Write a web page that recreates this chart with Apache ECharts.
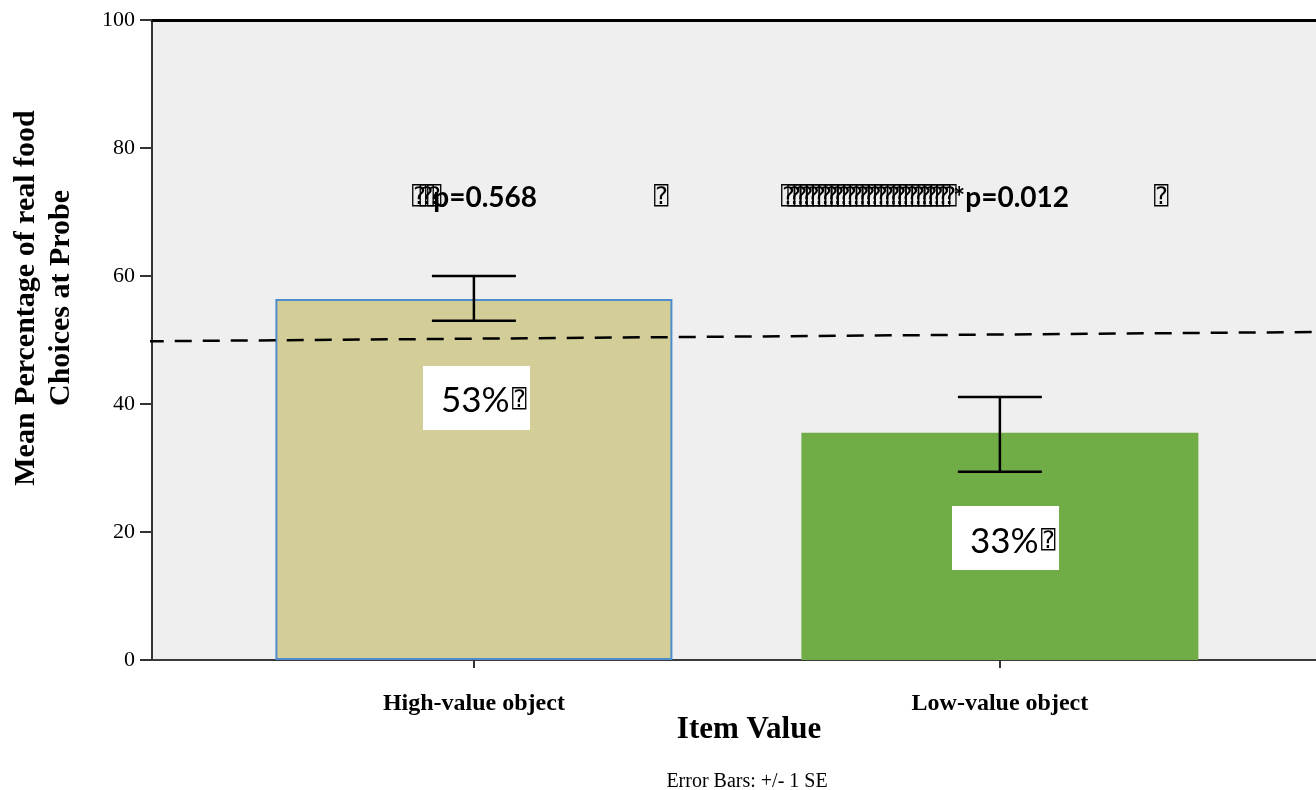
<!DOCTYPE html>
<html>
<head>
<meta charset="utf-8">
<script src="https://cdn.jsdelivr.net/npm/echarts@6/dist/echarts.min.js"></script>
<style>
  html, body { margin: 0; padding: 0; background: #ffffff; }
  #chart { width: 1316px; height: 790px; }
</style>
</head>
<body>
<div id="chart"></div>
<script>
// Mean percentage of real-food choices at probe, by item value
const categories = ['High-value object', 'Low-value object'];
const meanPercent = [56.4, 35.5];
const seLower = [53.0, 29.4];
const seUpper = [60.0, 41.1];
const percentLabels = ['53%', '33%'];
const pValueLabels = ['p=0.568', '*p=0.012'];
const chanceLevel = [49.8, 51.25];   // hand-drawn dashed reference, left end / right end
const yTickValues = [0, 20, 40, 60, 80, 100];

const SERIF = '"Liberation Serif", "Times New Roman", serif';
const SANS = 'Lato, "Open Sans", sans-serif';
const TOFU = '"DejaVu Sans Mono", "DejaVu Sans", monospace';
const Q = '\u2370';

// x axis runs in category-index units so the bars can sit off-centre in the frame
const X_MIN = -0.612, X_MAX = 1.601;
const catIndex = categories.map((_, i) => i);

const chart = echarts.init(document.getElementById('chart'), null, { renderer: 'canvas' });

function tofuRow(x0, step, count, yc) {
  const out = [];
  for (let i = 0; i < count; i++) {
    out.push({
      type: 'text', x: x0 + i * step, y: yc, z: 20,
      style: { text: Q, fill: '#000', font: '24px ' + TOFU, align: 'left', verticalAlign: 'middle' }
    });
  }
  return out;
}

const graphics = [
  // y axis title
  {
    type: 'text', x: 44, y: 298, rotation: Math.PI / 2, z: 20,
    style: {
      text: 'Mean Percentage of real food\nChoices at Probe',
      fill: '#000', font: 'bold 30px ' + SERIF, align: 'center', verticalAlign: 'middle', lineHeight: 35
    }
  },
  // x axis title
  {
    type: 'text', x: 749, y: 730, z: 20,
    style: { text: 'Item Value', fill: '#000', font: 'bold 31px ' + SERIF, align: 'center', verticalAlign: 'middle' }
  },
  // footnote
  {
    type: 'text', x: 747, y: 782, z: 20,
    style: { text: 'Error Bars: +/- 1 SE', fill: '#000', font: '20px ' + SERIF, align: 'center', verticalAlign: 'middle' }
  },
  // p-value annotations
  {
    type: 'text', x: 537, y: 198, z: 21,
    style: { text: pValueLabels[0], fill: '#000', font: 'bold 28px ' + SANS, align: 'right', verticalAlign: 'middle' }
  },
  {
    type: 'text', x: 1069, y: 198, z: 21,
    style: { text: pValueLabels[1], fill: '#000', font: 'bold 28px ' + SANS, align: 'right', verticalAlign: 'middle' }
  },
  ...tofuRow(412, 7.5, 3, 198),
  ...tofuRow(781, 6.2, 27, 198),
  ...tofuRow(654, 0, 1, 198),
  ...tofuRow(1154, 0, 1, 198),
  // percentage boxes
  { type: 'rect', shape: { x: 423, y: 366, width: 107, height: 64 }, style: { fill: '#ffffff' }, z: 20 },
  {
    type: 'text', x: 441, y: 401, z: 21,
    style: { text: percentLabels[0], fill: '#000', font: '35px ' + SANS, align: 'left', verticalAlign: 'middle' }
  },
  ...tofuRow(512, 0, 1, 401),
  { type: 'rect', shape: { x: 952, y: 506, width: 107, height: 64 }, style: { fill: '#ffffff' }, z: 20 },
  {
    type: 'text', x: 970, y: 542, z: 21,
    style: { text: percentLabels[1], fill: '#000', font: '35px ' + SANS, align: 'left', verticalAlign: 'middle' }
  },
  ...tofuRow(1041, 0, 1, 542)
];

const option = {
  animation: false,
  backgroundColor: '#ffffff',
  grid: {
    left: 152, right: 0, top: 20, bottom: 130,
    show: true, backgroundColor: '#efefef', borderWidth: 0
  },
  xAxis: [
    {
      type: 'value', position: 'bottom', min: X_MIN, max: X_MAX,
      axisLine: { show: true, onZero: false, lineStyle: { color: '#3a3a3a', width: 2 } },
      axisTick: { show: true, customValues: catIndex, length: 8, lineStyle: { color: '#333', width: 2 } },
      axisLabel: {
        show: true, customValues: catIndex, margin: 32,
        formatter: v => categories[Math.round(v)] || '',
        color: '#000', fontFamily: SERIF, fontWeight: 'bold', fontSize: 24
      },
      splitLine: { show: false }
    },
    {
      type: 'value', position: 'top', min: X_MIN, max: X_MAX,
      axisLine: { show: true, onZero: false, lineStyle: { color: '#000', width: 3 } },
      axisTick: { show: false }, axisLabel: { show: false }, splitLine: { show: false }
    }
  ],
  yAxis: {
    type: 'value', min: 0, max: 100, interval: 20,
    axisLine: { show: true, onZero: false, lineStyle: { color: '#333', width: 2 } },
    axisTick: { show: true, length: 12, lineStyle: { color: '#333', width: 2 } },
    axisLabel: {
      margin: 17, color: '#000', fontFamily: SERIF, fontSize: 22,
      formatter: v => yTickValues.includes(v) ? String(v) : ''
    },
    splitLine: { show: false }
  },
  series: [
    {
      type: 'bar', xAxisIndex: 0, barWidth: 397, z: 2,
      data: meanPercent.map((v, i) => ({
        value: [catIndex[i], v],
        itemStyle: i === 0
          ? { color: '#d3ce98', borderColor: '#4f8ccb', borderWidth: 2 }
          : { color: '#70ad47', borderWidth: 0 }
      }))
    },
    {
      type: 'line', xAxisIndex: 0, z: 4, clip: false, symbol: 'none', silent: true,
      lineStyle: { color: '#000', width: 2.5, type: [17, 11] },
      data: [[X_MIN - 0.01, chanceLevel[0]], [X_MAX, chanceLevel[1]]]
    },
    {
      type: 'custom', xAxisIndex: 0, z: 6,
      data: catIndex.map((x, i) => [x, seLower[i], seUpper[i]]),
      renderItem: (params, api) => {
        const lo = api.coord([api.value(0), api.value(1)]);
        const hi = api.coord([api.value(0), api.value(2)]);
        const hw = 42;
        const st = { stroke: '#000', lineWidth: 2.5 };
        return {
          type: 'group',
          children: [
            { type: 'line', shape: { x1: hi[0], y1: hi[1], x2: lo[0], y2: lo[1] }, style: st },
            { type: 'line', shape: { x1: hi[0] - hw, y1: hi[1], x2: hi[0] + hw, y2: hi[1] }, style: st },
            { type: 'line', shape: { x1: lo[0] - hw, y1: lo[1], x2: lo[0] + hw, y2: lo[1] }, style: st }
          ]
        };
      }
    }
  ],
  graphic: graphics
};

chart.setOption(option);
</script>
</body>
</html>
